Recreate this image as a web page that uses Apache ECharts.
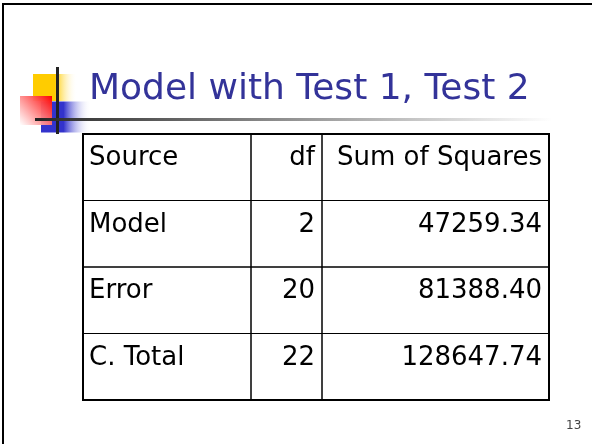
<!DOCTYPE html>
<html>
<head>
<meta charset="utf-8">
<script src="https://cdn.jsdelivr.net/npm/echarts@6/dist/echarts.min.js"></script>
<style>html,body{margin:0;padding:0;background:#fff;}#c{width:592px;height:444px;}</style>
</head>
<body>
<div id="c"></div>
<script>
// ---- data ----
var titleText = 'Model with Test 1, Test 2';
var headers = ['Source', 'df', 'Sum of Squares'];
var sources = ['Model', 'Error', 'C. Total'];
var dfValues = [2, 20, 22];
var ssValues = [47259.34, 81388.40, 128647.74];
var pageNumber = '13';

// ---- layout (not data) ----
var colEdges = [0, 168, 239, 466];
var colAlign = ['left', 'right', 'right'];
var FONT = '"DejaVu Sans", Verdana, sans-serif';

var rows = ['Source'].concat(sources);
var cells = [];
headers.forEach(function (h, c) { cells.push({ col: c, row: 0, text: h }); });
sources.forEach(function (s, i) {
  cells.push({ col: 0, row: i + 1, text: s });
  cells.push({ col: 1, row: i + 1, text: String(dfValues[i]) });
  cells.push({ col: 2, row: i + 1, text: ssValues[i].toFixed(2) });
});

var chart = echarts.init(document.getElementById('c'), null, { renderer: 'canvas' });
chart.setOption({
  backgroundColor: '#ffffff',
  animation: false,
  title: {
    text: titleText,
    left: 84,
    top: 67,
    textStyle: { fontFamily: FONT, fontSize: 36, fontWeight: 'normal', color: '#333399' }
  },
  graphic: [
    // slide frame
    { type: 'line', shape: { x1: 3, y1: 4, x2: 3, y2: 444 }, style: { stroke: '#000', lineWidth: 2 } },
    { type: 'line', shape: { x1: 2, y1: 4, x2: 592, y2: 4 }, style: { stroke: '#000', lineWidth: 2 } },
    // logo squares
    { type: 'rect', shape: { x: 33, y: 74, width: 44, height: 27 },
      style: { fill: new echarts.graphic.LinearGradient(0, 0, 1, 0, [
        { offset: 0, color: '#FFCC00' }, { offset: 0.5, color: '#FFCC00' }, { offset: 1, color: 'rgba(255,255,255,0)' }]) } },
    { type: 'rect', shape: { x: 41, y: 101.5, width: 50, height: 31 },
      style: { fill: new echarts.graphic.LinearGradient(0, 0, 1, 0, [
        { offset: 0, color: '#3333CC' }, { offset: 0.45, color: '#3333CC' }, { offset: 1, color: 'rgba(255,255,255,0)' }]) } },
    { type: 'rect', shape: { x: 20, y: 96, width: 32, height: 29 },
      style: { fill: new echarts.graphic.LinearGradient(1, 0, 0, 1, [
        { offset: 0, color: '#FF0000' }, { offset: 1, color: 'rgba(255,255,255,0.9)' }]) } },
    // logo cross + underline
    { type: 'rect', shape: { x: 56, y: 67, width: 3, height: 67 }, style: { fill: '#222' } },
    { type: 'rect', shape: { x: 35, y: 118, width: 517, height: 3 },
      style: { fill: new echarts.graphic.LinearGradient(0, 0, 1, 0, [
        { offset: 0, color: '#222222' }, { offset: 0.05, color: '#333333' }, { offset: 1, color: '#ffffff' }]) } },
    // page number
    { type: 'text', x: 566, y: 420, style: { text: pageNumber, fontSize: 12, fontFamily: FONT, fill: '#444' } }
  ],
  grid: {
    left: 83, top: 134, width: 466, height: 266,
    show: true, borderColor: '#000', borderWidth: 2, backgroundColor: 'transparent'
  },
  xAxis: { type: 'value', min: 0, max: 466, show: false },
  yAxis: { type: 'category', data: rows, inverse: true, show: false },
  series: [{
    type: 'custom',
    clip: false,
    data: cells.map(function (c) { return [c.col, c.row]; }),
    renderItem: function (params, api) {
      var cell = cells[params.dataIndex];
      var x0 = api.coord([colEdges[cell.col], cell.row])[0];
      var x1 = api.coord([colEdges[cell.col + 1], cell.row])[0];
      var cy = api.coord([0, cell.row])[1];
      var h = api.size([0, 1])[1];
      var y0 = cy - h / 2;
      var align = colAlign[cell.col];
      return {
        type: 'group',
        children: [
          { type: 'rect', shape: { x: x0, y: y0, width: x1 - x0, height: h },
            style: { fill: 'none', stroke: '#000', lineWidth: 1 } },
          { type: 'text',
            style: {
              text: cell.text,
              x: align === 'left' ? x0 + 6 : x1 - 7,
              y: y0 + 24.5,
              align: align,
              verticalAlign: 'middle',
              fontSize: 26,
              fontFamily: FONT,
              fill: '#000'
            } }
        ]
      };
    }
  }]
});
</script>
</body>
</html>
